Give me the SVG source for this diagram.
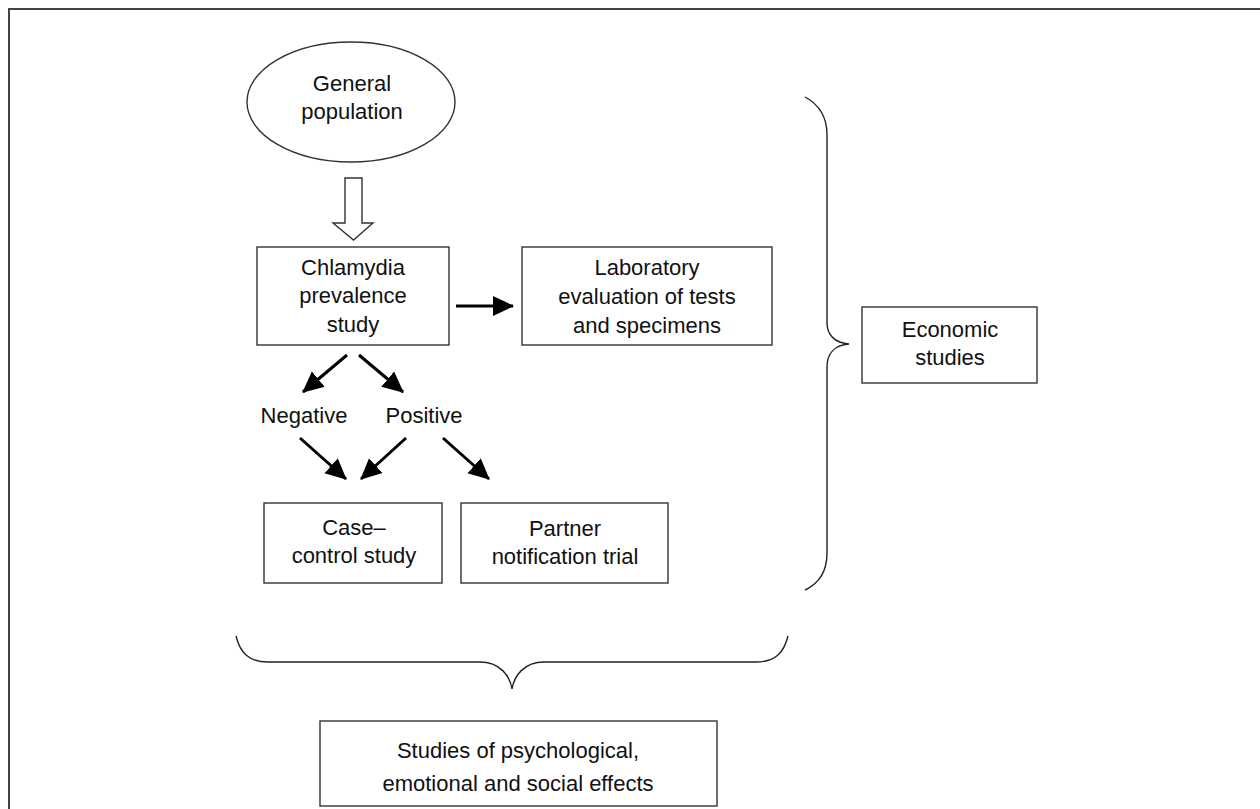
<svg xmlns="http://www.w3.org/2000/svg" width="1260" height="809" viewBox="0 0 1260 809">
<defs>
<style>
.box{fill:#fff;stroke:#333;stroke-width:1.4}
.t{font-family:"Liberation Sans",Arial,sans-serif;font-size:22px;fill:#111;text-anchor:middle}
.ar{stroke:#000;stroke-width:3;fill:none}
.br{stroke:#222;stroke-width:1.4;fill:none}
</style>
<marker id="ah" markerUnits="userSpaceOnUse" markerWidth="22" markerHeight="22" viewBox="0 0 22 22" refX="20" refY="11" orient="auto">
<path d="M0,1 L21,11 L0,21 Z" fill="#000"/>
</marker>
</defs>
<rect width="1260" height="809" fill="#fff"/>
<path d="M9,809 L9,9 L1260,9" fill="none" stroke="#444" stroke-width="2"/>

<g id="general-population">
<ellipse cx="351" cy="102" rx="104" ry="60" class="box"/>
<text class="t" x="352" y="91">General</text>
<text class="t" x="352" y="119">population</text>
</g>

<g id="chlamydia-study">
<rect x="257" y="247" width="192" height="98" class="box"/>
<text class="t" x="353" y="275">Chlamydia</text>
<text class="t" x="353" y="303">prevalence</text>
<text class="t" x="353" y="332">study</text>
</g>

<g id="laboratory">
<rect x="522" y="247" width="250" height="98" class="box"/>
<text class="t" x="647" y="275">Laboratory</text>
<text class="t" x="647" y="304">evaluation of tests</text>
<text class="t" x="647" y="333">and specimens</text>
</g>

<g id="negative">
<text class="t" x="304" y="423">Negative</text>
</g>
<g id="positive">
<text class="t" x="424" y="423">Positive</text>
</g>

<g id="case-control">
<rect x="264" y="503" width="178" height="80" class="box"/>
<text class="t" x="354" y="535">Case–</text>
<text class="t" x="354" y="563">control study</text>
</g>

<g id="partner-notification">
<rect x="461" y="503" width="207" height="80" class="box"/>
<text class="t" x="565" y="536">Partner</text>
<text class="t" x="565" y="564">notification trial</text>
</g>

<g id="economic-studies">
<rect x="862" y="307" width="175" height="76" class="box"/>
<text class="t" x="950" y="337">Economic</text>
<text class="t" x="950" y="365">studies</text>
</g>

<g id="psychological-studies">
<rect x="320" y="721" width="397" height="85" class="box"/>
<text class="t" x="518" y="758">Studies of psychological,</text>
<text class="t" x="518" y="791">emotional and social effects</text>
</g>

<g id="connectors">
<polygon points="345,178 362,178 362,223 373,223 353.5,240 333,223 345,223" fill="#fff" stroke="#333" stroke-width="1.4"/>
<line x1="456" y1="306" x2="513" y2="306" class="ar" marker-end="url(#ah)"/>
<line x1="347" y1="355" x2="303" y2="392" class="ar" marker-end="url(#ah)"/>
<line x1="359" y1="355" x2="403" y2="392" class="ar" marker-end="url(#ah)"/>
<line x1="300" y1="438" x2="346" y2="479" class="ar" marker-end="url(#ah)"/>
<line x1="406" y1="438" x2="361" y2="479" class="ar" marker-end="url(#ah)"/>
<line x1="443" y1="438" x2="489" y2="479" class="ar" marker-end="url(#ah)"/>
<path class="br" d="M805,97 C820,105 827,118 827,135 L827,323 C827,335 835,343 849,344 C835,345 827,353 827,367 L827,553 C827,570 820,583 805,590"/>
<path class="br" d="M236,636 C240,652 248,662 268,662 L480,662 C500,662 510,676 512,689 C514,676 524,662 544,662 L756,662 C776,662 784,652 788,636"/>
</g>
</svg>
